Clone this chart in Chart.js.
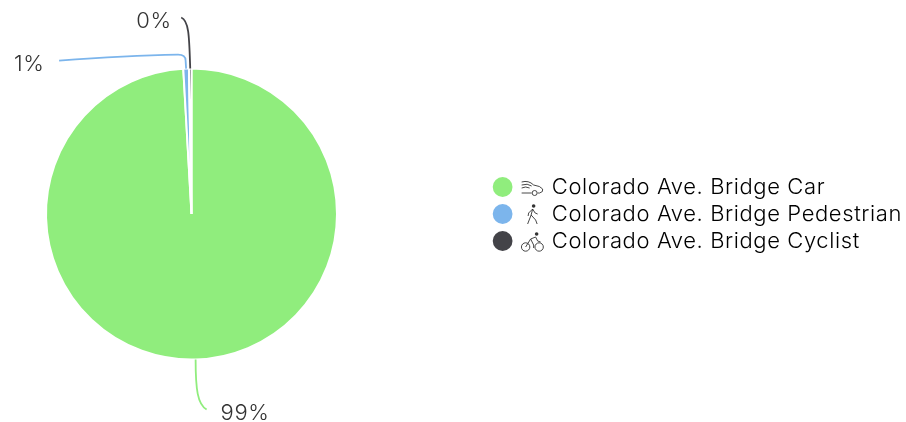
<!DOCTYPE html>
<html>
<head>
<meta charset="utf-8">
<style>
  html, body { margin: 0; padding: 0; background: #fff; }
  #wrap { width: 906px; height: 422px; }
</style>
<script src="https://cdn.jsdelivr.net/npm/chart.js@4"></script>
</head>
<body>
<div id="wrap"><canvas id="pie"></canvas></div>
<script>
const categories = ['Colorado Ave. Bridge Car', 'Colorado Ave. Bridge Pedestrian', 'Colorado Ave. Bridge Cyclist'];
const shares = [99.1, 0.62, 0.28];
const colors = ['#90ed7d', '#7cb5ec', '#434348'];

const FONT = 'Inter, "Liberation Sans", sans-serif';
const TEXT = '#333333';

// leader lines are drawn relative to the slice's point on the rim
const leaders = [
  { label: [25, 54], path: (c, x, y) => { c.bezierCurveTo(x, y + 30, x + 2, y + 45, x + 11, y + 50); } },
  { label: [-172, -4], path: (c, x, y) => {
      c.lineTo(x - 0.5, y - 8);
      c.quadraticCurveTo(x - 0.5, y - 14, x - 8, y - 14);
      c.quadraticCurveTo(x - 60, y - 13, x - 127, y - 8);
    } },
  { label: [-54, -47], path: (c, x, y) => { c.bezierCurveTo(x - 1, y - 30, x - 1, y - 48, x - 9, y - 51); } }
];

function drawCarIcon(c) {
  c.beginPath();
  c.moveTo(1, -6); c.quadraticCurveTo(8, -8, 13, -3); c.quadraticCurveTo(20, -2, 22, 1);
  c.quadraticCurveTo(23, 4, 19, 5); c.lineTo(17, 5);
  c.moveTo(1, -3); c.quadraticCurveTo(7, -5, 11, -2);
  c.moveTo(1, 0); c.quadraticCurveTo(5, -2, 9, 0);
  c.moveTo(1, 5); c.lineTo(11, 5);
  c.stroke();
  c.beginPath(); c.arc(14, 5, 2.5, 0, Math.PI * 2); c.stroke();
}
function drawWalkIcon(c) {
  c.beginPath(); c.arc(13, -9, 1.8, 0, Math.PI * 2); c.fill();
  c.beginPath();
  c.moveTo(12, -6); c.lineTo(10.5, 0); c.lineTo(7, 9);
  c.moveTo(10.5, 0); c.lineTo(15, 5); c.lineTo(16.5, 9);
  c.moveTo(12, -6); c.lineTo(8, -2); c.lineTo(7.5, 1);
  c.moveTo(12, -6); c.lineTo(14.5, -2); c.lineTo(17, -1);
  c.stroke();
}
function drawBikeIcon(c) {
  c.beginPath(); c.arc(16, -8, 1.8, 0, Math.PI * 2); c.fill();
  c.beginPath(); c.arc(5, 5, 4.2, 0, Math.PI * 2); c.stroke();
  c.beginPath(); c.arc(18.5, 5, 4.2, 0, Math.PI * 2); c.stroke();
  c.beginPath();
  c.moveTo(5, 5); c.lineTo(10, -3); c.lineTo(15, -5);
  c.moveTo(10, -3); c.lineTo(13, 3); c.lineTo(13, 6);
  c.moveTo(15, -5); c.lineTo(17, -1); c.lineTo(20, 0);
  c.stroke();
}
const iconDrawers = [drawCarIcon, drawWalkIcon, drawBikeIcon];

const pieNotes = {
  id: 'pieNotes',
  // resizing the canvas wipes this, so it is set again before layout and draw
  beforeLayout(chart) { chart.ctx.letterSpacing = '0.6px'; },
  beforeDraw(chart) { chart.ctx.letterSpacing = '0.6px'; },
  // the legend sits far right but the pie stays in its own box on the left
  afterLayout(chart) {
    chart.chartArea.right = 338;
    chart.chartArea.width = chart.chartArea.right - chart.chartArea.left;
  },
  afterDraw(chart) {
    const c = chart.ctx;
    const arcs = chart.getDatasetMeta(0).data;
    c.save();
    arcs.forEach((arc, i) => {
      const mid = (arc.startAngle + arc.endAngle) / 2;
      const x = arc.x + Math.cos(mid) * arc.outerRadius;
      const y = arc.y + Math.sin(mid) * arc.outerRadius;
      c.beginPath();
      c.moveTo(x, y);
      leaders[i].path(c, x, y);
      c.strokeStyle = colors[i];
      c.lineWidth = 1.8;
      c.stroke();

      c.font = '300 22px ' + FONT;
      c.fillStyle = TEXT;
      c.textAlign = 'left';
      c.textBaseline = 'middle';
      c.fillText(Math.round(shares[i]) + '%', x + leaders[i].label[0], y + leaders[i].label[1]);
    });

    chart.legend.legendHitBoxes.forEach((box, i) => {
      c.save();
      c.translate(box.left + 29, box.top + box.height / 2 + 1);
      c.strokeStyle = '#333';
      c.fillStyle = '#333';
      c.lineWidth = 0.9;
      iconDrawers[i](c);
      c.restore();
    });
    c.restore();
  }
};

new Chart(document.getElementById('pie'), {
  type: 'pie',
  data: {
    labels: categories,
    datasets: [{
      data: shares,
      backgroundColor: colors,
      borderColor: '#ffffff',
      borderWidth: 2
    }]
  },
  plugins: [pieNotes],
  options: {
    responsive: true,
    maintainAspectRatio: false,
    animation: false,
    layout: { padding: { left: 45, top: 67, bottom: 61, right: -6 } },
    plugins: {
      tooltip: { enabled: false },
      legend: {
        position: 'right',
        labels: {
          usePointStyle: true,
          pointStyle: 'circle',
          boxWidth: 22,
          boxHeight: 14,
          padding: 5,
          color: TEXT,
          font: { family: FONT, size: 22, weight: '300' },
          generateLabels: () => categories.map((name, i) => ({
            text: '    ' + name,
            fillStyle: colors[i],
            strokeStyle: colors[i],
            lineWidth: 0,
            pointStyle: 'circle',
            index: i
          }))
        }
      }
    }
  }
});
</script>
</body>
</html>
